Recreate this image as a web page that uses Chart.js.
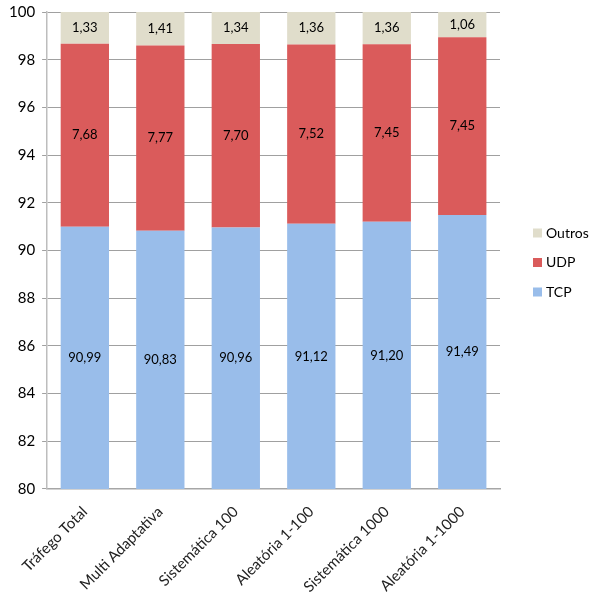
<!DOCTYPE html>
<html>
  <head>
    <style>
      html { background: #FFFFFF; }
      body { margin: 0; }
      #chart-container { width: 596px; height: 592px; position: relative; }
    </style>
  </head>
  <body>
    <div id="chart-container">
      <canvas id="chart"></canvas>
    </div>

    <script src="https://cdn.jsdelivr.net/npm/chart.js"></script>
    <script>
      const labels = ["Tráfego Total", "Multi Adaptativa", "Sistemática 100", "Aleatória 1-100", "Sistemática 1000", "Aleatória 1-1000"];
      const tcp = [90.99, 90.83, 90.96, 91.12, 91.20, 91.49];
      const udp = [7.68, 7.77, 7.70, 7.52, 7.45, 7.45];
      const outros = [1.33, 1.41, 1.34, 1.36, 1.36, 1.06];

      const FONT = "Lato";

      // comma decimal, two places
      function fmt(v) {
        return v.toFixed(2).replace(".", ",");
      }

      // value labels centred on the visible part of each segment
      const barLabels = {
        id: "barLabels",
        afterDatasetsDraw(chart) {
          const ctx = chart.ctx;
          const area = chart.chartArea;
          ctx.save();
          ctx.font = "13px " + FONT;
          ctx.fillStyle = "#000";
          ctx.textAlign = "center";
          ctx.textBaseline = "middle";
          chart.data.datasets.forEach(function (ds, i) {
            const meta = chart.getDatasetMeta(i);
            meta.data.forEach(function (bar, j) {
              const top = Math.max(bar.y, area.top);
              const bottom = Math.min(bar.base, area.bottom);
              ctx.fillText(fmt(ds.data[j]), bar.x, (top + bottom) / 2);
            });
          });
          ctx.restore();
        }
      };

      // legend on the right, top series first
      const sideLegend = {
        id: "sideLegend",
        afterDraw(chart, args, opts) {
          const ctx = chart.ctx;
          ctx.save();
          ctx.font = "14px " + FONT;
          ctx.textBaseline = "middle";
          chart.data.datasets.slice().reverse().forEach(function (ds, i) {
            const y = opts.top + i * opts.spacing;
            ctx.fillStyle = ds.backgroundColor;
            ctx.fillRect(opts.left, y - 4.5, 9, 9);
            ctx.fillStyle = "#000";
            ctx.fillText(ds.label, opts.left + 13, y);
          });
          ctx.restore();
        }
      };

      new Chart(document.getElementById("chart"), {
        type: "bar",
        data: {
          labels: labels,
          datasets: [
            { label: "TCP", data: tcp, backgroundColor: "#99BDEA" },
            { label: "UDP", data: udp, backgroundColor: "#DA5B5B" },
            { label: "Outros", data: outros, backgroundColor: "#E0DDCB" }
          ]
        },
        options: {
          responsive: true,
          maintainAspectRatio: false,
          animation: false,
          datasets: {
            bar: { categoryPercentage: 1, barPercentage: 0.64 }
          },
          layout: { padding: { left: 2, right: 96, top: 0, bottom: -10 } },
          plugins: {
            legend: { display: false },
            tooltip: { enabled: false },
            sideLegend: { left: 533, top: 233, spacing: 29.5 }
          },
          scales: {
            x: {
              stacked: true,
              grid: { display: false },
              border: { display: true, color: "#A6A6A6", width: 1.5 },
              ticks: {
                minRotation: 45,
                maxRotation: 45,
                padding: 6,
                color: "#222",
                font: { family: FONT, size: 15 }
              }
            },
            y: {
              stacked: true,
              min: 80,
              max: 100,
              grid: { color: "#A0A0A0", tickLength: 5, lineWidth: 1 },
              border: { display: true, color: "#BDBDBD", width: 1.5 },
              ticks: {
                stepSize: 2,
                padding: 7,
                color: "#000",
                font: { family: FONT, size: 15, lineHeight: 0.67 }
              }
            }
          }
        },
        plugins: [barLabels, sideLegend]
      });
    </script>
  </body>
</html>
